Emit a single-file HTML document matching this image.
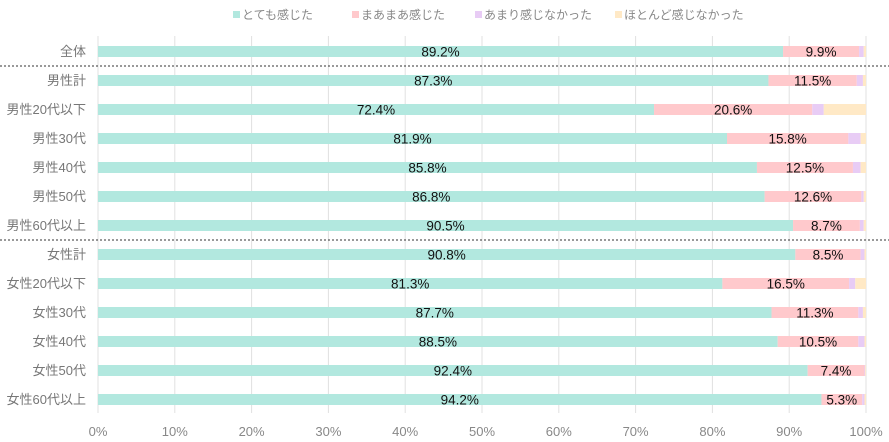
<!DOCTYPE html>
<html><head><meta charset="utf-8"><style>
html,body{margin:0;padding:0;background:#fff}
svg{display:block;font-family:"Liberation Sans","Noto Sans CJK JP",sans-serif}
</style></head><body>
<svg id="c" width="889" height="442" xmlns="http://www.w3.org/2000/svg"></svg>
<script>
const d=[["全体",89.2,9.9,0.6,0.3],["男性計",87.3,11.5,0.8,0.4],["男性20代以下",72.4,20.6,1.5,5.5],["男性30代",81.9,15.8,1.6,0.7],["男性40代",85.8,12.5,1.0,0.7],["男性50代",86.8,12.6,0.3,0.3],["男性60代以上",90.5,8.7,0.5,0.3],["女性計",90.8,8.5,0.5,0.2],["女性20代以下",81.3,16.5,0.8,1.4],["女性30代",87.7,11.3,0.6,0.4],["女性40代",88.5,10.5,0.8,0.2],["女性50代",92.4,7.4,0.1,0.1],["女性60代以上",94.2,5.3,0.3,0.2]];
const col=["#b2e8df","#ffc9cc","#e8ccf5","#ffe9c6"];
const X0=98,W=768;let s="";
for(let i=0;i<=10;i++){const x=X0+W*i/10;s+=`<line x1="${x}" y1="36" x2="${x}" y2="413" stroke="#e0e0e0" stroke-width="1"/>`;s+=`<text x="${x}" y="436" font-size="13" fill="#888" text-anchor="middle">${i*10}%</text>`;}
d.forEach((r,j)=>{const cy=51.5+j*29;let x=X0;const tot=r[1]+r[2]+r[3]+r[4];
s+=`<text x="86" y="${cy+4.5}" font-size="13" fill="#777" text-anchor="end">${r[0]}</text>`;
for(let k=0;k<4;k++){const w=W*r[k+1]/tot;s+=`<rect x="${x}" y="${cy-5.5}" width="${w}" height="11" fill="${col[k]}"/>`;
if(k<2)s+=`<text x="${x+w/2}" y="${cy+5}" font-size="13.5" fill="#111" text-anchor="middle">${r[k+1].toFixed(1)}%</text>`;x+=w;}});
[66,240].forEach(y=>s+=`<line x1="0" y1="${y}" x2="889" y2="${y}" stroke="#333" stroke-dasharray="2,2" stroke-width="1"/>`);
const lg=[["とても感じた",233],["まあまあ感じた",352],["あまり感じなかった",475],["ほとんど感じなかった",615]];
lg.forEach((l,i)=>{s+=`<rect x="${l[1]}" y="11" width="7" height="7" fill="${col[i]}"/><text x="${l[1]+9}" y="19" font-size="12" fill="#888">${l[0]}</text>`;});
document.getElementById("c").innerHTML=s;
</script>
</body></html>
